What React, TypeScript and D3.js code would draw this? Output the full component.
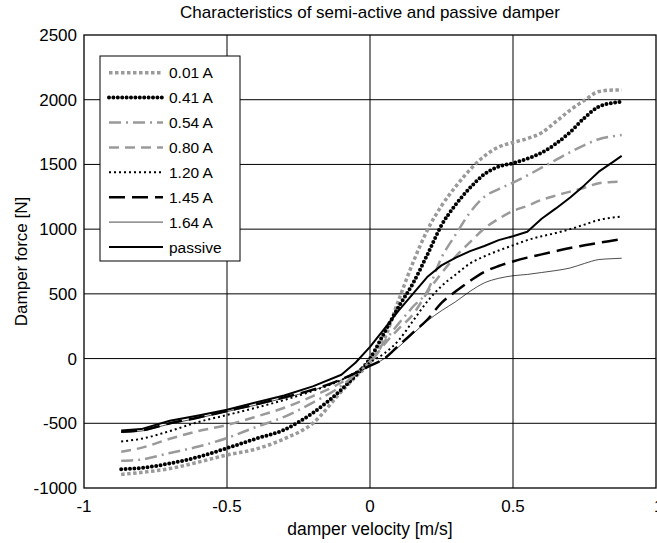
import React from 'react';
import * as d3 from 'd3';

const velocity = [-0.87, -0.8, -0.7, -0.6, -0.5, -0.4, -0.3, -0.2, -0.1, -0.05, 0, 0.05, 0.1, 0.15, 0.2, 0.25, 0.3, 0.35, 0.4, 0.45, 0.5, 0.55, 0.6, 0.65, 0.7, 0.75, 0.8, 0.85, 0.88];

const force001 = [-895, -880, -850, -800, -745, -700, -620, -500, -255, -140, -30, 150, 450, 740, 990, 1180, 1330, 1460, 1565, 1635, 1670, 1700, 1745, 1830, 1920, 1995, 2063, 2075, 2076];
const force041 = [-855, -845, -810, -760, -692, -620, -550, -420, -240, -130, 0, 200, 400, 580, 800, 1030, 1190, 1320, 1425, 1483, 1510, 1545, 1590, 1660, 1750, 1860, 1947, 1975, 1985];
const force054 = [-790, -780, -730, -680, -614, -530, -450, -340, -210, -120, -20, 130, 270, 400, 520, 780, 960, 1130, 1250, 1310, 1360, 1415, 1475, 1535, 1595, 1650, 1695, 1718, 1728];
const force080 = [-720, -690, -620, -560, -513, -450, -380, -290, -185, -115, -30, 110, 230, 340, 510, 660, 790, 900, 1005, 1080, 1140, 1180, 1226, 1260, 1290, 1320, 1355, 1365, 1367];
const force120 = [-640, -620, -560, -490, -436, -380, -320, -250, -165, -105, -30, 40, 140, 290, 440, 560, 650, 735, 790, 835, 875, 915, 945, 970, 1000, 1035, 1071, 1090, 1097];
const force145 = [-565, -555, -500, -455, -405, -355, -300, -240, -160, -110, -55, 0, 100, 200, 300, 430, 520, 600, 670, 715, 750, 780, 805, 830, 855, 875, 895, 912, 922];
const force164 = [-570, -560, -505, -460, -410, -360, -305, -245, -165, -115, -60, 0, 90, 190, 290, 370, 440, 520, 585, 620, 640, 650, 665, 680, 700, 735, 765, 772, 775];
const forcePassive = [-555, -545, -480, -440, -395, -340, -285, -215, -125, -30, 90, 230, 370, 500, 630, 720, 780, 830, 870, 915, 945, 980, 1080, 1160, 1245, 1340, 1444, 1520, 1566];

const seriesLabels = ['0.01 A', '0.41 A', '0.54 A', '0.80 A', '1.20 A', '1.45 A', '1.64 A', 'passive'];
const xTicks = [-1, -0.5, 0, 0.5, 1];
const yTicks = [-1000, -500, 0, 500, 1000, 1500, 2000, 2500];

const allForces = [force001, force041, force054, force080, force120, force145, force164, forcePassive];

type Style = { stroke: string; width: number; dash?: string; cap?: string; linear?: boolean };
const styles: Style[] = [
  { stroke: '#9a9a9a', width: 3.5, dash: '3.5 2.5' },
  { stroke: '#000', width: 4, dash: '0 4.4', cap: 'round' },
  { stroke: '#9a9a9a', width: 2.5, dash: '12 5 2 5' },
  { stroke: '#9a9a9a', width: 2.5, dash: '10 6' },
  { stroke: '#000', width: 2, dash: '2 3' },
  { stroke: '#000', width: 2.5, dash: '16 7' },
  { stroke: '#000', width: 0.7 },
  { stroke: '#000', width: 2, linear: true },
];

export default function App() {
  const W = 657, H = 543;
  const left = 84, right = 656, top = 35, bottom = 488;
  const x = d3.scaleLinear().domain([-1, 1]).range([left, right]);
  const y = d3.scaleLinear().domain([-1000, 2500]).range([bottom, top]);
  const font = 'Liberation Sans, Arial, sans-serif';
  const fs = 17;
  const legFs = 15.5;

  const makeLine = (linear: boolean) =>
    d3.line<number>()
      .x((_, i) => x(velocity[i]))
      .y((d) => y(d))
      .curve(linear ? d3.curveLinear : d3.curveMonotoneX);

  const legLeft = 100, legTop = 56, legW = 140, legH = 205;
  const rowY = (i: number) => 72.7 + i * 24.9;

  return (
    <svg width={W} height={H} style={{ position: 'fixed', left: 0, top: 0, background: '#fff' }} fontFamily={font}>
      <rect x={0} y={0} width={W} height={H} fill="#fff" />
      <text x={370} y={18} textAnchor="middle" fontSize={fs}>Characteristics of semi-active and passive damper</text>
      {/* grid */}
      {xTicks.slice(1, -1).map((t) => (
        <line key={'gx' + t} x1={x(t)} x2={x(t)} y1={top} y2={bottom} stroke="#000" strokeWidth={1} />
      ))}
      {yTicks.slice(1, -1).map((t) => (
        <line key={'gy' + t} x1={left} x2={right} y1={y(t)} y2={y(t)} stroke="#000" strokeWidth={1} />
      ))}
      {/* series */}
      {allForces.map((f, i) => {
        const s = styles[i];
        return (
          <path key={'s' + i} d={makeLine(!!s.linear)(f) || ''} fill="none" stroke={s.stroke} strokeWidth={s.width}
            strokeDasharray={s.dash} strokeLinecap={(s.cap as any) || 'butt'} strokeLinejoin="round" />
        );
      })}
      {/* axes box */}
      <rect x={left} y={top} width={right - left} height={bottom - top} fill="none" stroke="#000" strokeWidth={1.3} />
      {/* tick labels */}
      {xTicks.map((t) => (
        <text key={'tx' + t} x={x(t)} y={512} textAnchor={t === 1 ? 'start' : 'middle'} dx={t === 1 ? -2 : 0} fontSize={fs}>{String(t)}</text>
      ))}
      {yTicks.map((t) => (
        <text key={'ty' + t} x={left - 7} y={y(t) + 6} textAnchor="end" fontSize={fs}>{String(t)}</text>
      ))}
      <text x={370} y={535} textAnchor="middle" fontSize={17.5}>damper velocity [m/s]</text>
      <text transform={`translate(27, ${(top + bottom) / 2}) rotate(-90)`} textAnchor="middle" fontSize={fs}>Damper force [N]</text>
      {/* legend */}
      <rect x={legLeft} y={legTop} width={legW} height={legH} fill="#fff" stroke="#000" strokeWidth={1} />
      {seriesLabels.map((lab, i) => {
        const s = styles[i];
        return (
          <g key={'l' + i}>
            <line x1={109} x2={163} y1={rowY(i)} y2={rowY(i)} stroke={s.stroke} strokeWidth={s.width}
              strokeDasharray={s.dash} strokeLinecap={(s.cap as any) || 'butt'} />
            <text x={169} y={rowY(i) + 5.5} fontSize={legFs}>{lab}</text>
          </g>
        );
      })}
    </svg>
  );
}
